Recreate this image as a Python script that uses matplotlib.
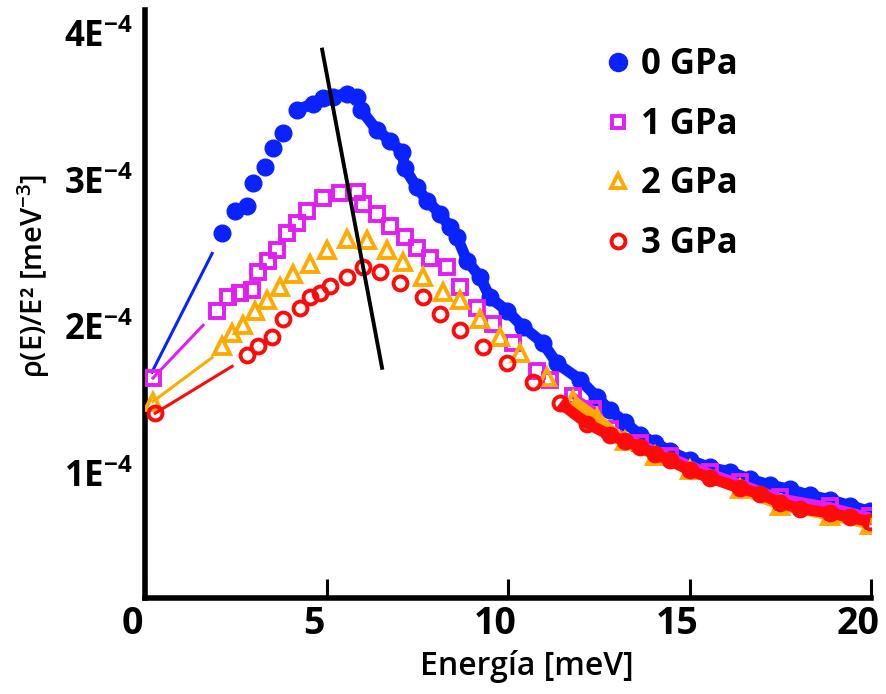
import matplotlib
matplotlib.use("Agg")
import matplotlib.pyplot as plt
import matplotlib.transforms as mtransforms
from matplotlib.lines import Line2D

plt.rcParams["font.family"] = ["Open Sans", "DejaVu Sans"]
plt.rcParams["font.weight"] = "semibold"
plt.rcParams["mathtext.fontset"] = "custom"
plt.rcParams["mathtext.rm"] = "Open Sans:bold"
plt.rcParams["mathtext.it"] = "Open Sans:bold"
plt.rcParams["mathtext.bf"] = "Open Sans:bold"
plt.rcParams["mathtext.default"] = "regular"

# rho(E)/E^2 in units of 1E-4 meV^-3, E in meV
labels = ["0 GPa", "1 GPa", "2 GPa", "3 GPa"]
colors = ["#0a22ff", "#e21ef2", "#ffaa00", "#ff0a0a"]

# thin low-energy segments (start, end)
lead_x = [[0.19, 1.85], [0.22, 1.60], [0.22, 1.85], [0.28, 2.40]]
lead_y = [[1.69, 2.50], [1.65, 2.01], [1.49, 1.79], [1.41, 1.73]]

e0 = [2.12, 2.48, 2.81, 2.98, 3.31, 3.53, 3.80, 4.19, 4.63, 4.90, 5.18, 5.56, 5.84,
      5.95, 6.39, 6.75, 7.08, 7.16, 7.49, 7.77, 8.13, 8.40, 8.60, 8.87, 9.23, 9.50,
      9.97, 10.41, 10.96, 11.35, 11.98, 12.45, 12.81, 13.22, 13.64, 14.05, 14.46,
      15.01, 15.56, 16.12, 16.67, 17.22, 17.77, 18.32, 18.87, 19.42, 19.97]
r0 = [2.64, 2.79, 2.82, 2.98, 3.09, 3.22, 3.32, 3.48, 3.52, 3.56, 3.57, 3.59, 3.57,
      3.48, 3.34, 3.27, 3.19, 3.08, 2.95, 2.86, 2.77, 2.68, 2.61, 2.45, 2.34, 2.20,
      2.11, 2.00, 1.89, 1.75, 1.64, 1.52, 1.43, 1.35, 1.26, 1.21, 1.15,
      1.09, 1.04, 1.01, 0.96, 0.92, 0.89, 0.85, 0.82, 0.78, 0.74]

e1 = [0.22, 1.98, 2.29, 2.62, 2.95, 3.11, 3.39, 3.64, 3.91, 4.19, 4.46, 4.90, 5.37,
      5.84, 6.01, 6.39, 6.75, 7.16, 7.49, 7.85, 8.32, 8.68, 9.15, 9.59, 10.14, 10.80,
      11.16, 11.79, 12.34, 12.81, 13.64, 14.46, 15.56, 16.39, 17.49, 18.87, 19.97]
r1 = [1.65, 2.11, 2.20, 2.23, 2.25, 2.37, 2.45, 2.52, 2.64, 2.71, 2.79, 2.88, 2.91,
      2.92, 2.84, 2.77, 2.69, 2.61, 2.54, 2.47, 2.41, 2.27, 2.13, 2.02, 1.89, 1.70,
      1.64, 1.53, 1.44, 1.30, 1.21, 1.12, 1.01, 0.94, 0.84, 0.78, 0.71]

e2 = [0.22, 2.12, 2.40, 2.70, 3.03, 3.36, 3.72, 4.08, 4.55, 5.01, 5.56, 6.12, 6.67,
      7.11, 7.66, 8.21, 8.68, 9.23, 9.78, 10.33, 11.07, 11.79, 12.45, 13.22, 14.05,
      15.01, 16.39, 17.49, 18.87, 19.97]
r2 = [1.49, 1.87, 1.96, 2.01, 2.11, 2.18, 2.27, 2.36, 2.43, 2.52, 2.60, 2.59, 2.52,
      2.44, 2.34, 2.24, 2.18, 2.05, 1.93, 1.82, 1.66, 1.50, 1.38, 1.22, 1.12,
      1.02, 0.89, 0.78, 0.71, 0.65]

e3 = [0.28, 2.81, 3.11, 3.50, 3.80, 4.27, 4.55, 4.82, 5.10, 5.56, 6.01, 6.47, 7.02,
      7.66, 8.13, 8.68, 9.31, 9.97, 10.69, 11.43, 12.18, 12.81, 13.22, 13.64, 14.05,
      14.46, 15.01, 15.56, 16.39, 16.94, 17.49, 18.04, 18.87, 19.42, 19.97]
r3 = [1.41, 1.81, 1.87, 1.93, 2.05, 2.13, 2.20, 2.23, 2.28, 2.34, 2.41, 2.37, 2.30,
      2.20, 2.09, 1.98, 1.86, 1.75, 1.62, 1.48, 1.34, 1.26, 1.22, 1.18, 1.13,
      1.09, 1.02, 0.97, 0.90, 0.86, 0.80, 0.76, 0.73, 0.70, 0.67]

energies = [e0, e1, e2, e3]
rhos = [r0, r1, r2, r3]

# black guide line through the peaks
guide_x = [4.88, 6.53]
guide_y = [3.89, 1.72]

xticks = [0, 5, 10, 15, 20]
yticks = [1, 2, 3, 4]
ytick_labels = ["1E$^{-4}$", "2E$^{-4}$", "3E$^{-4}$", "4E$^{-4}$"]

fig = plt.figure(figsize=(8.87, 6.94), dpi=100)
ax = fig.add_axes([145 / 887, 96 / 694, 726 / 887, 588 / 694])

marker_kw = [
    dict(marker="o", ms=12, mfc=colors[0], mec=colors[0], mew=1),
    dict(marker="s", ms=9.5, mfc="none", mec=colors[1], mew=2.8),
    dict(marker="^", ms=11, mfc="none", mec=colors[2], mew=2.8),
    dict(marker="o", ms=10, mfc="none", mec=colors[3], mew=2.8),
]
band_w = [8.0, 5.0, 7.0, 8.0]
band_from = [4.0, 11.3, 11.3, 11.3]   # where the dense marker band starts

for i in range(4):
    ax.plot(lead_x[i], lead_y[i], color=colors[i], lw=2.2, zorder=2 + i)
    e = energies[i]
    r = rhos[i]
    tail = [k for k in range(len(e)) if e[k] >= band_from[i]]
    ax.plot([e[k] for k in tail], [r[k] for k in tail], color=colors[i],
            lw=band_w[i], solid_capstyle="butt", zorder=2 + i)
    ax.plot(e, r, ls="none", zorder=2 + i, **marker_kw[i])

ax.plot(guide_x, guide_y, color="black", lw=2.8, zorder=10)

handles = [
    Line2D([], [], ls="none", marker="o", ms=13, mfc=colors[0], mec=colors[0]),
    Line2D([], [], ls="none", marker="s", ms=9, mfc="none", mec=colors[1], mew=2.8),
    Line2D([], [], ls="none", marker="^", ms=10, mfc="none", mec=colors[2], mew=2.8),
    Line2D([], [], ls="none", marker="o", ms=10, mfc="none", mec=colors[3], mew=2.8),
]
ax.legend(handles, labels, loc="upper left", bbox_to_anchor=(0.635, 0.937),
          frameon=False, prop=dict(size=25, weight="bold"), handlelength=0.7,
          handletextpad=0.3, labelspacing=0.68, borderpad=0, borderaxespad=0)

ax.set_xlim(0, 20)
ax.set_ylim(0.15, 4.16)
ax.set_xticks(xticks)
ax.set_xticklabels([str(t) for t in xticks], fontsize=27, fontweight="bold")
ax.set_yticks(yticks)
ax.set_yticklabels(ytick_labels, fontsize=25, fontweight="bold")
ax.tick_params(axis="x", direction="in", length=14, width=2.2, pad=5)
ax.tick_params(axis="y", length=0, pad=9)

shift = mtransforms.ScaledTranslation(-9 / 72, 0, fig.dpi_scale_trans)
for lab in ax.get_xticklabels():
    lab.set_transform(lab.get_transform() + shift)

for side in ["top", "right"]:
    ax.spines[side].set_visible(False)
for side in ["left", "bottom"]:
    ax.spines[side].set_linewidth(4)
    ax.spines[side].set_color("black")

ax.set_xlabel("Energía [meV]", fontsize=23, fontweight="semibold")
ax.xaxis.set_label_coords(0.526, -0.088)
ax.set_ylabel("ρ(E)/E² [meV$^{-3}$]", fontsize=21, fontweight="semibold")
ax.yaxis.set_label_coords(-0.128, 0.548)

fig.savefig("out.png", dpi=100)
